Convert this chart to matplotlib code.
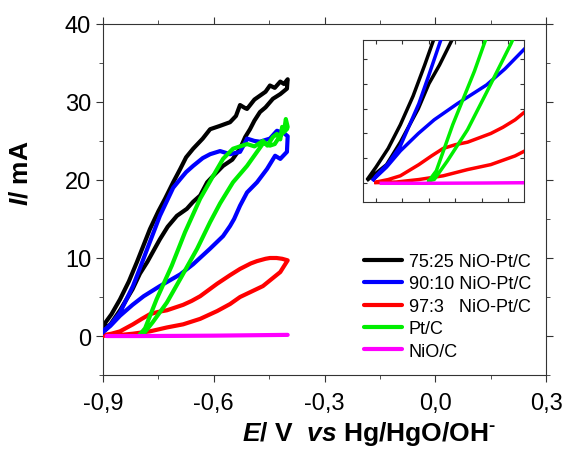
import matplotlib.pyplot as plt
from matplotlib.ticker import MultipleLocator, FixedLocator, FixedFormatter

plt.rcParams['font.family'] = ['Liberation Sans', 'DejaVu Sans']
plt.rcParams['mathtext.fontset'] = 'custom'
plt.rcParams['mathtext.rm'] = 'Liberation Sans:bold'
plt.rcParams['mathtext.it'] = 'Liberation Sans:bold:italic'

# 75:25 NiO-Pt/C  (forward + return branch)
E_black = [-0.915, -0.9, -0.877, -0.854, -0.83, -0.808, -0.773, -0.75, -0.732, -0.71, -0.691, -0.675,
           -0.656, -0.63, -0.61, -0.585, -0.556, -0.54, -0.529, -0.515, -0.51, -0.49, -0.475, -0.46,
           -0.448, -0.435, -0.42, -0.41, -0.4,
           -0.402, -0.42, -0.44, -0.46, -0.475, -0.49, -0.502, -0.515, -0.529, -0.55, -0.575, -0.6,
           -0.618, -0.637, -0.656, -0.673, -0.7, -0.725, -0.746, -0.78, -0.8, -0.82, -0.854, -0.88, -0.915]
I_black = [0.4, 1.3, 2.8, 4.7, 7.0, 9.5, 13.7, 16.0, 17.6, 19.7, 21.4, 22.9,
           24.0, 25.3, 26.5, 26.9, 27.4, 28.2, 29.6, 29.2, 29.1, 30.3, 30.8, 31.3,
           32.1, 31.8, 32.6, 32.3, 32.9,
           31.7, 31.0, 30.4, 29.3, 28.7, 27.6, 26.5, 25.5, 24.0, 22.6, 21.8, 20.6,
           19.7, 18.0, 17.2, 16.3, 15.4, 14.0, 12.4, 9.5, 8.0, 6.0, 3.3, 1.5, 0.3]

# 90:10 NiO-Pt/C
E_blue = [-0.905, -0.9, -0.877, -0.854, -0.819, -0.8, -0.78, -0.746, -0.724, -0.71, -0.691, -0.675,
          -0.656, -0.63, -0.61, -0.583, -0.556, -0.529, -0.515, -0.51, -0.49, -0.475, -0.448, -0.429,
          -0.41, -0.4,
          -0.402, -0.42, -0.434, -0.456, -0.483, -0.51, -0.529, -0.545, -0.556, -0.575, -0.61,
          -0.656, -0.691, -0.746, -0.79, -0.82, -0.854, -0.88, -0.905]
I_blue = [0.3, 0.6, 1.6, 3.0, 6.4, 8.7, 11.2, 15.4, 17.6, 19.0, 20.1, 21.0,
          21.8, 22.8, 23.3, 23.7, 23.3, 23.6, 24.8, 25.3, 25.0, 24.9, 25.3, 26.3,
          26.0, 25.6,
          23.6, 22.7, 23.1, 21.4, 19.7, 18.4, 16.7, 15.0, 14.1, 12.8, 11.2,
          9.2, 7.9, 6.4, 5.1, 4.0, 2.6, 1.3, 0.3]

# 97:3 NiO-Pt/C
E_red = [-0.9, -0.877, -0.854, -0.819, -0.795, -0.773, -0.75, -0.727, -0.683, -0.66, -0.637, -0.591,
         -0.556, -0.529, -0.5, -0.483, -0.46, -0.448, -0.43, -0.415, -0.4,
         -0.42, -0.467, -0.529, -0.556, -0.591, -0.637, -0.683, -0.727, -0.773, -0.819, -0.862, -0.9]
I_red = [0.1, 0.3, 0.6, 1.5, 2.2, 2.8, 3.1, 3.3, 4.0, 4.5, 5.1, 6.7,
         7.8, 8.6, 9.3, 9.6, 9.9, 10.0, 10.0, 9.9, 9.7,
         8.2, 6.4, 5.0, 4.1, 3.2, 2.2, 1.5, 1.1, 0.6, 0.3, 0.1, 0.05]

# Pt/C
E_green = [-0.8, -0.786, -0.755, -0.714, -0.678, -0.637, -0.602, -0.575, -0.548, -0.51, -0.49,
           -0.467, -0.455, -0.44, -0.429, -0.42, -0.415, -0.41, -0.405, -0.4,
           -0.402, -0.42, -0.435, -0.448, -0.465, -0.483, -0.51, -0.548, -0.583, -0.61, -0.645,
           -0.691, -0.727, -0.765, -0.79, -0.8]
I_green = [0.2, 1.0, 4.7, 9.0, 13.3, 17.6, 20.5, 22.7, 24.0, 24.6, 24.3,
           25.0, 24.4, 25.5, 25.9, 25.2, 26.8, 26.2, 27.8, 26.8,
           26.5, 25.7, 24.6, 24.4, 24.8, 23.6, 21.8, 19.7, 17.0, 14.6, 11.2,
           7.3, 4.3, 1.8, 0.3, 0.2]

# NiO/C
E_mag = [-0.89, -0.8, -0.7, -0.6, -0.5, -0.4]
I_mag = [0.0, 0.0, 0.02, 0.05, 0.1, 0.15]

series = [
    (E_black, I_black, 'black', '75:25 NiO-Pt/C', 2),
    (E_blue, I_blue, '#0000ff', '90:10 NiO-Pt/C', 4),
    (E_red, I_red, '#ff0000', '97:3   NiO-Pt/C', 3),
    (E_green, I_green, '#00ee00', 'Pt/C', 5),
    (E_mag, I_mag, '#ff00ff', 'NiO/C', 6),
]

x_ticks = [-0.9, -0.6, -0.3, 0.0, 0.3]
x_labels = ['-0,9', '-0,6', '-0,3', '0,0', '0,3']
y_ticks = [0, 10, 20, 30, 40]

fig = plt.figure(figsize=(5.66, 4.52), dpi=100)
ax = fig.add_axes([0.182, 0.168, 0.783, 0.777])

for E, I, c, lab, z in series:
    ax.plot(E, I, color=c, lw=3, label=lab, zorder=z, solid_capstyle='round', solid_joinstyle='round')

ax.set_xlim(-0.9, 0.3)
ax.set_ylim(-5, 40)
ax.xaxis.set_major_locator(FixedLocator(x_ticks))
ax.xaxis.set_major_formatter(FixedFormatter(x_labels))
ax.xaxis.set_minor_locator(MultipleLocator(0.15))
ax.yaxis.set_major_locator(FixedLocator(y_ticks))
ax.yaxis.set_minor_locator(MultipleLocator(5))
ax.tick_params(which='both', direction='out', top=True, right=True, labelsize=17, color='#333333')
ax.tick_params(axis='x', which='major', pad=7)
ax.tick_params(which='major', length=5)
ax.tick_params(which='minor', length=3)
for s in ax.spines.values():
    s.set_color('#333333')

ax.set_xlabel(r'$E$/ V  $vs$ Hg/HgO/OH$^{\text{-}}$', fontsize=19, fontweight='bold')
ax.xaxis.set_label_coords(0.6, -0.125)
ax.set_ylabel(r'$I$/ mA', fontsize=19, fontweight='bold')
ax.yaxis.set_label_coords(-0.158, 0.578)

ax.legend(loc='lower right', bbox_to_anchor=(1.0, 0.0), frameon=False, fontsize=13,
          handlelength=2.1, handletextpad=0.35, labelspacing=0.3, borderaxespad=0.45)

# inset: zoom on the onset region
axi = fig.add_axes([0.641, 0.551, 0.285, 0.358])
for E, I, c, lab, z in series:
    axi.plot(E, I, color=c, lw=2.5, zorder=z, solid_joinstyle='round')
axi.set_xlim(-0.925, -0.62)
axi.set_ylim(-1.5, 11.5)
axi.xaxis.set_major_locator(MultipleLocator(0.05))
axi.yaxis.set_major_locator(MultipleLocator(2))
axi.tick_params(which='both', direction='in', top=True, right=True, labelbottom=False,
                labelleft=False, length=3, color='#333333')
for s in axi.spines.values():
    s.set_color('#333333')

fig.savefig('out.png', dpi=100)
